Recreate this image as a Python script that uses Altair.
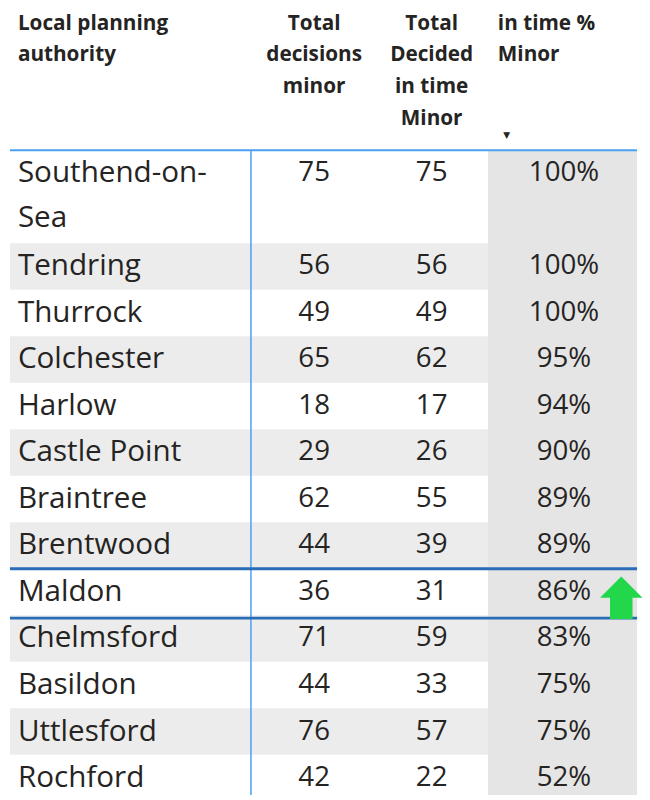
import altair as alt
import pandas as pd

# ---------------- data ----------------
names = ["Southend-on-Sea", "Tendring", "Thurrock", "Colchester", "Harlow",
         "Castle Point", "Braintree", "Brentwood", "Maldon", "Chelmsford",
         "Basildon", "Uttlesford", "Rochford"]
total_minor = [75, 56, 49, 65, 18, 29, 62, 44, 36, 71, 44, 76, 42]
in_time_minor = [75, 56, 49, 62, 17, 26, 55, 39, 31, 59, 33, 57, 22]
pct_in_time = [100, 100, 100, 95, 94, 90, 89, 89, 86, 83, 75, 75, 52]
headers = ["Local planning\nauthority", "Total\ndecisions\nminor",
           "Total\nDecided\nin time\nMinor", "in time %\nMinor"]
highlight = "Maldon"

# ---------------- layout ----------------
W, H = 642, 792
ROW_PX = 47.1
HEAD_PX = 139
TXT = "#252423"
FONT = "Open Sans"
col_x = {"name": 10, "total": 310, "intime": 429, "pct": 563}
header_x = [10, 310, 429, 496]
header_align = ["left", "center", "center", "left"]
table_left, table_right = 2, 637
pct_left = 486
divider_x = 246

ys = alt.Scale(domain=[-HEAD_PX / ROW_PX, (H - HEAD_PX) / ROW_PX], reverse=True, nice=False, zero=False)
xs = alt.Scale(domain=[0, W], nice=False, zero=False)


def X(f):
    return alt.X(f, type="quantitative", scale=xs, axis=None)


def Y(f):
    return alt.Y(f, type="quantitative", scale=ys, axis=None)


labels = [n.replace("-on-Sea", "-on-\nSea") for n in names]
units = [2 if "\n" in l else 1 for l in labels]
starts, s = [], 0
for u in units:
    starts.append(s)
    s += u
rows = pd.DataFrame({
    "label": labels,
    "start": starts,
    "end": [a + u for a, u in zip(starts, units)],
    "total": total_minor,
    "intime": in_time_minor,
    "pct": [f"{p}%" for p in pct_in_time],
    "idx": list(range(len(names))),
    "name": names,
})
rows["mid"] = (rows["start"] + rows["end"]) / 2
rows["first"] = rows["start"] + 0.5
rows["x0"] = table_left
rows["x1"] = pct_left
rows["tx"] = col_x["name"]
rows["cx_total"] = col_x["total"]
rows["cx_intime"] = col_x["intime"]
rows["cx_pct"] = col_x["pct"]
table_end = float(rows["end"].max())

stripes = rows[rows["idx"] % 2 == 1]
stripe_layer = alt.Chart(stripes).mark_rect(color="#ececec").encode(
    x=X("x0"), x2="x1", y=Y("start"), y2="end")

pct_bg = alt.Chart(pd.DataFrame({"a": [pct_left], "b": [table_right], "y0": [0], "y1": [table_end]})) \
    .mark_rect(color="#e5e5e5", clip=True).encode(x=X("a"), x2="b", y=Y("y0"), y2="y1")

head_line = alt.Chart(pd.DataFrame({"a": [table_left], "b": [table_right], "y": [0]})) \
    .mark_rule(color="#4a9ff0", strokeWidth=2).encode(x=X("a"), x2="b", y=Y("y"))

vline = alt.Chart(pd.DataFrame({"x": [divider_x], "y0": [0], "y1": [table_end]})) \
    .mark_rule(color="#4a9ff0", strokeWidth=1.5, clip=True).encode(x=X("x"), y=Y("y0"), y2="y1")

hl = rows[rows["name"] == highlight]
hl_lines = pd.DataFrame({
    "a": [table_left] * 2, "b": [table_right] * 2,
    "y": [float(hl["start"].iloc[0]), float(hl["end"].iloc[0]) + 0.06],
})
hl_layer = alt.Chart(hl_lines).mark_rule(color="#2a6cb6", strokeWidth=3).encode(
    x=X("a"), x2="b", y=Y("y"))

arrow_df = pd.DataFrame({"x": [621], "y": [float(hl["mid"].iloc[0]) + 0.12]})
arrow = alt.Chart(arrow_df).mark_point(
    shape="M0,-1 L1,0 L0.53,0 L0.53,1 L-0.53,1 L-0.53,0 L-1,0 Z",
    size=1850, filled=True, color="#22d84a", opacity=1, strokeWidth=0
).encode(x=X("x"), y=Y("y"))

name_txt = alt.Chart(rows).mark_text(
    align="left", baseline="middle", font=FONT, fontSize=30, color=TXT,
    lineBreak="\n", lineHeight=45
).encode(x=X("tx"), y=Y("first"), text="label:N")

num_style = dict(align="center", baseline="middle", font=FONT, fontSize=28, color=TXT)
tot_txt = alt.Chart(rows).mark_text(**num_style).encode(x=X("cx_total"), y=Y("first"), text="total:N")
int_txt = alt.Chart(rows).mark_text(**num_style).encode(x=X("cx_intime"), y=Y("first"), text="intime:N")
pct_txt = alt.Chart(rows).mark_text(**num_style).encode(x=X("cx_pct"), y=Y("first"), text="pct:N")

head_y = (17 - HEAD_PX) / ROW_PX
head_layers = []
for h, hx, ha in zip(headers, header_x, header_align):
    df = pd.DataFrame({"t": [h], "x": [hx], "y": [head_y]})
    head_layers.append(alt.Chart(df).mark_text(
        align=ha, baseline="alphabetic", font=FONT, fontSize=21, fontWeight="bold",
        color=TXT, lineBreak="\n", lineHeight=32
    ).encode(x=X("x"), y=Y("y"), text="t:N"))

sort_df = pd.DataFrame({"t": ["▼"], "x": [505], "y": [(124 - HEAD_PX) / ROW_PX]})
sort_mark = alt.Chart(sort_df).mark_text(
    align="center", baseline="middle", fontSize=9, color=TXT, font="DejaVu Sans"
).encode(x=X("x"), y=Y("y"), text="t:N")

chart = alt.layer(
    stripe_layer, pct_bg, head_line, vline, hl_layer, arrow,
    name_txt, tot_txt, int_txt, pct_txt, *head_layers, sort_mark
).properties(
    width=W, height=H, padding=0, autosize=alt.AutoSizeParams(type="none"),
    background="white"
).configure_view(stroke=None)

chart.save("out.html", embed_options={"renderer": "svg", "actions": False})
